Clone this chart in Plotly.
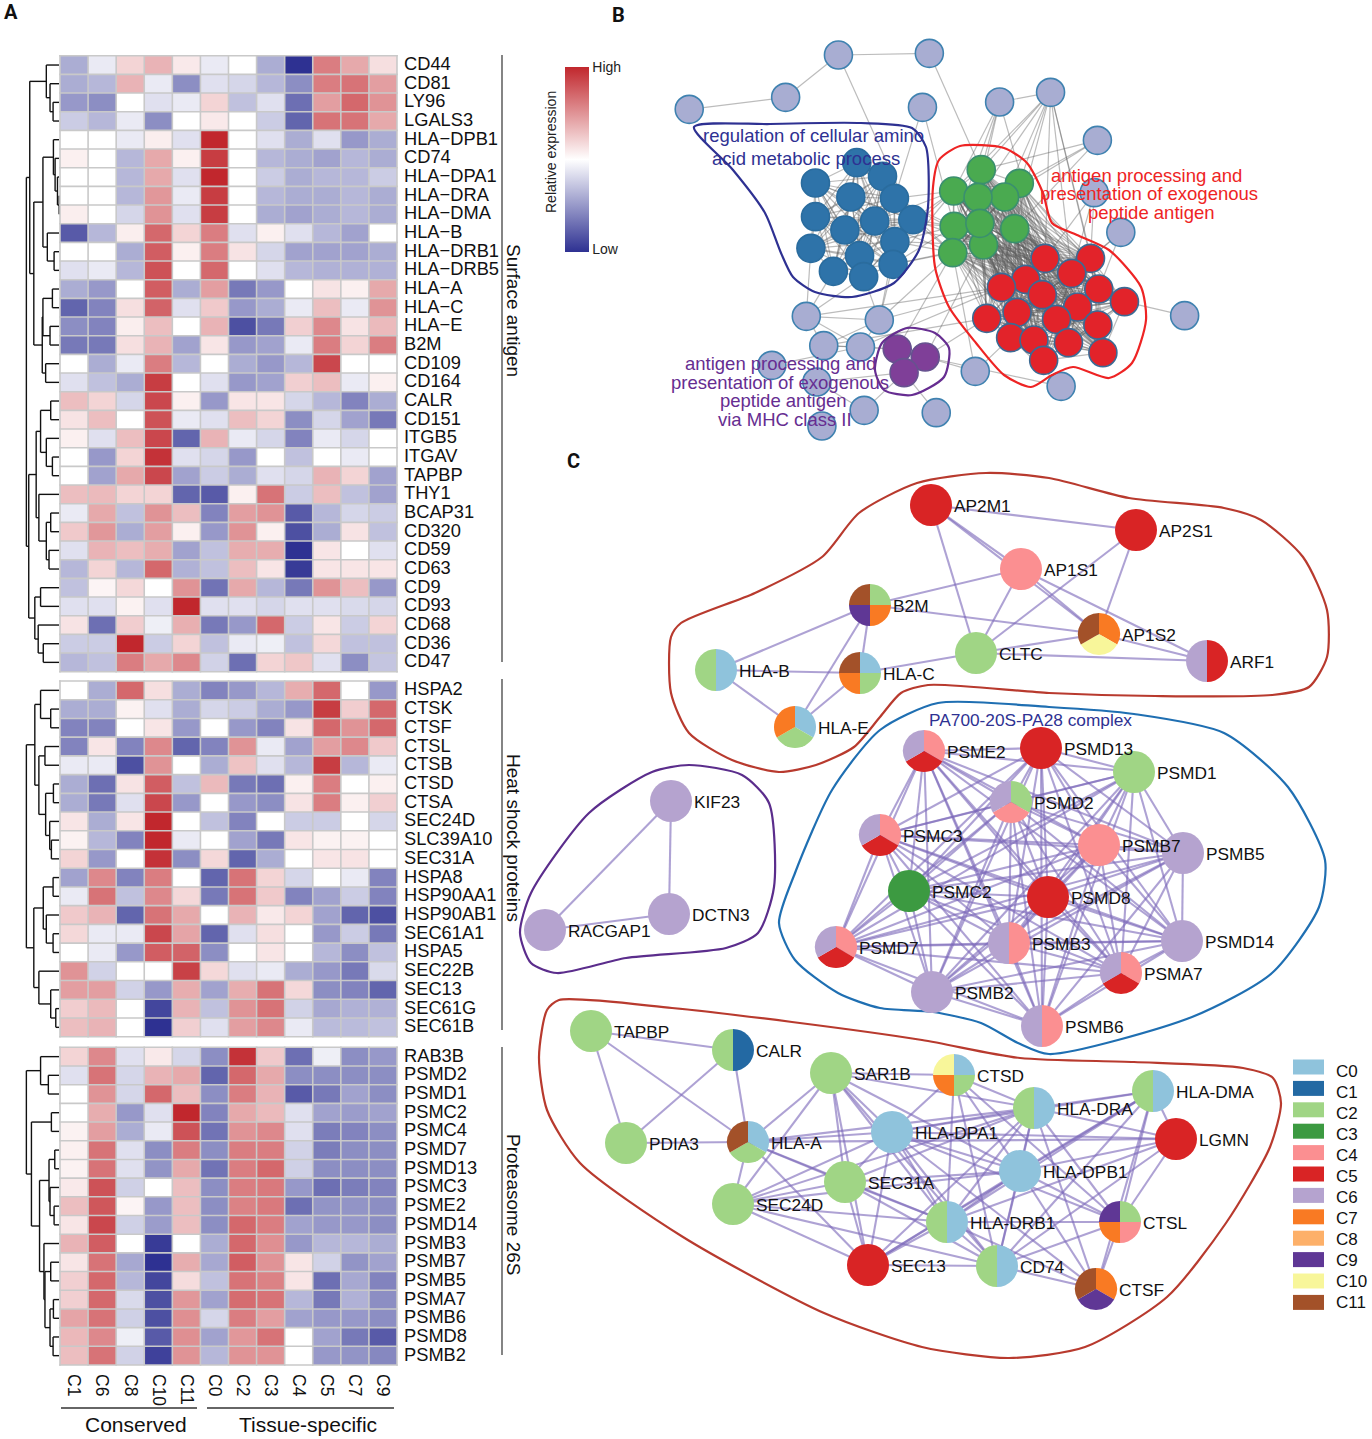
import itertools
import plotly.graph_objects as go

W, H = 1372, 1439
FONT = "Liberation Sans"

COLUMNS = ["C1", "C6", "C8", "C10", "C11", "C0", "C2", "C3", "C4", "C5", "C7", "C9"]

SURFACE_GENES = ["CD44", "CD81", "LY96", "LGALS3", "HLA−DPB1", "CD74", "HLA−DPA1", "HLA−DRA", "HLA−DMA", "HLA−B",
                 "HLA−DRB1", "HLA−DRB5", "HLA−A", "HLA−C", "HLA−E", "B2M", "CD109", "CD164", "CALR", "CD151",
                 "ITGB5", "ITGAV", "TAPBP", "THY1", "BCAP31", "CD320", "CD59", "CD63", "CD9", "CD93", "CD68",
                 "CD36", "CD47"]
SURFACE_VALUES = [
    [-4, -1, 2, 3.5, 1, -1, 0, -4, -10, 6, 4, 1.5],
    [-4, -3.5, 3.5, -1, -5.5, -1.5, -2, -3.5, -5.5, 6, 6.5, 4.5],
    [-5, -5.5, 0, -1.5, -1, 2, -3, -1.5, -7, 4.5, 7, 5],
    [-2.5, -3.5, -1, -5.5, 0, 1, 0, -2.5, -7.5, 6.5, 6.5, 4],
    [0, 0, -1, .8, -1.5, 10, 0, -1.5, -4, -1.5, -5, -4],
    [.7, 0, -3.5, 4, .7, 9, 0, -3.5, -4, -4.5, -3.5, -4],
    [0, 0, -3.5, 4, -1.5, 10, 0, -2.5, -4, -3.5, -3.5, -2.5],
    [0, 0, -3.5, 4.8, -1, 9, 0, -3.5, -4, -4, -3.5, -4],
    [.8, 0, -2, 5, -1.5, 9, 0, -4, -4.5, -4, -3.5, -4],
    [-8, -3.5, .8, 7, 2, 6, -1.5, .7, -1.5, -3.5, -4.5, 0],
    [0, 0, -4, 7.5, .7, 6, 1.3, -2, -4.5, -4.5, -4.5, -4],
    [-1.5, -1, -3.5, 8, 0, 7, 0, -1.5, -3.5, -3.8, -3.8, -3.8],
    [-4, -5, 0, 7.5, -4, 4.5, -6.5, -5, 0, 1.3, .7, 4],
    [-7.5, -6, 1.5, 7.2, -1.5, 2.5, -5, -4, -1, 3, -1, 5],
    [-5.5, -6, .8, 3, 0, 3.5, -8.5, -6.5, 2.2, 5.5, 1.3, 3.2],
    [-6.5, -6.5, 1.5, 3.5, -4.5, 1.2, -5, -4.5, -1, 6, 2, 6],
    [0, -4, -1, 6, -3.5, 0, -4, -5, -3.5, 8.5, 0, 0],
    [-1.5, -3, -4, 9, 0, -1.5, -5, -4.5, 2.2, 3, -1, .7],
    [3, 2, -2, 8.5, .7, -5, 1.2, 1.2, -2, -3.5, -6, -4],
    [1.3, 3, 0, 8, -1, -1.5, 3, 2, -5.5, -2, -4.5, -6.5],
    [.7, -1.5, 3, 8.5, -7.5, 3.5, -1, -2, -6, -1, -2, 0],
    [0, -5, 2, 9.5, -1.5, -2, -5, 0, -3, 0, -1, 0],
    [0, -4.5, 4, 8.5, -4.5, -2.5, -4, -1.5, -2, 3.5, 2, -4.5],
    [3, 3.2, 2, 2, -7.5, -8, .7, 6.5, -2.5, 3, -3, -4.5],
    [-1, 4, -3, 5, 3, -6, 4.5, 5, -8, -3.5, -2, -2.5],
    [2.5, 4.8, -4, 4.5, .7, -5, 5, .7, -8.5, -4, 1.3, -3],
    [-1.5, 3.5, 3, 3.8, -4.5, -3, 3.8, 3.8, -10, 1.2, 0, -1.5],
    [-3.5, 2, -3.5, 7, -3.8, -3, 3, 1.2, -9.5, 1.2, 1.2, 1.2],
    [-3, .5, 1.8, 0, 5, -6.8, 4, -3.5, -6.5, 5, 3, -5],
    [-1.5, -1.5, .6, -1.5, 10, -1.5, -1.5, -2, -1.5, -1.5, -1.8, -2],
    [1.3, -7, 2.3, -.8, 3.7, -6.5, -5, 7, -2.5, 1.2, -2.5, 2],
    [-2.5, -2.5, 10, -2.5, 2, -3, -1, -.8, -3, 1.8, -3, -3],
    [-3.5, -3, 6, 4, 5.5, -2.2, -7, 2, 2.6, -1.5, -5.5, -2.8],
]

HEAT_GENES = ["HSPA2", "CTSK", "CTSF", "CTSL", "CTSB", "CTSD", "CTSA", "SEC24D", "SLC39A10", "SEC31A", "HSPA8",
              "HSP90AA1", "HSP90AB1", "SEC61A1", "HSPA5", "SEC22B", "SEC13", "SEC61G", "SEC61B"]
HEAT_VALUES = [
    [0, -4, 7, 1.5, -4, -6, -5, -3.5, 3.8, 7, 0, -5],
    [-4, -4, .6, -1.5, -4, -2, -2.5, -4, -5, 9, 2.3, 7],
    [-6, -6, 0, 1.2, -5, 0, -5, -6, 1.3, 7, 5, 7],
    [-6, 1.2, -6, 5.5, -7.5, -6, 5, -1, -4.5, 4.5, 5.5, 2.5],
    [-1, -1, -8.5, 5, 0, -4, 2.8, -1.5, -3.5, 9, -3.5, -1],
    [-4, -7, 1.3, 7.5, -3, 3.2, -6.5, -7, .7, 6, 0, .7],
    [-4, -6.5, -1.5, 8.5, -5, 0, -5, -5.5, 1.3, 6, .7, 2.2],
    [1.2, -4, 1.2, 10, 0, -3, -6, 0, -2.5, -2.5, 0, -2],
    [.6, -3.5, -6, 10, -1, 0, -4.5, -6.5, 1.2, .6, .6, 0],
    [2, -5, 0, 9.5, -5.5, 1.8, -7.5, -4, 0, 1.2, 1.3, 0],
    [-4.5, 5.5, -6, 6, 0, -7.5, 6.5, 2, -2, 0, -1, -6],
    [-1, 6.5, -3, 5.5, 1.8, -6.5, 6.5, 2.5, -6, -4.5, -2.5, -6],
    [2.5, 3.5, -7.5, 6.5, 4, 0, 3.5, 1, 2, -4.5, -7.5, -8.5],
    [1.8, -1, -1, 8.5, 4.2, -7.5, -1.5, 1.5, 0, -5, -2.5, -6.5],
    [0, -1, -5, 7.5, 7.2, -5.5, 0, 1.2, 0, -3.5, -5.5, -3],
    [5, -2.2, 0, 0, 8.8, 1.8, -1.5, -1, -4, -5, -6.5, -1.8],
    [4.5, 4.5, -2.2, -5, 3.8, -4.5, 3.8, 6.5, 1.8, -5.5, -6, -7.5],
    [2.3, 3.2, 0, -9, 3.5, -3, 5, 6.5, -2.2, -4.2, -3.8, -3.8],
    [3, 3.5, 0, -10, 2.2, -1.5, 4.5, 5.5, -1, -3.3, -3.3, -3],
]

PROT_GENES = ["RAB3B", "PSMD2", "PSMD1", "PSMC2", "PSMC4", "PSMD7", "PSMD13", "PSMC3", "PSME2", "PSMD14", "PSMB3",
              "PSMB7", "PSMB5", "PSMA7", "PSMB6", "PSMD8", "PSMB2"]
PROT_VALUES = [
    [2, 5.5, -1.5, 1, -2, -5.5, 9.5, 2.5, -7, -.8, -5.5, -5],
    [-1.5, 6.5, -2, 3.5, 4, -7.5, 7, 4, -5.5, -5.5, -5.5, -5.5],
    [0, 5, -2, 7, 3, -5.5, 6, 3.5, -8, -6.5, -4.5, -5.5],
    [0, 3.8, -5, -1.5, 10, -6, 4, 3.2, -1.5, -4.5, -4.8, -4.5],
    [.6, 4.5, -4, -1, 8, -6.8, 5, 5.5, -1.5, -6.3, -6, -5.5],
    [.7, 6.5, -1.5, -5.5, 6, -5.5, 6, 6, -2.2, -6.3, -5.5, -5.5],
    [.6, 6.5, -1.5, -5.2, 4, -6.8, 6, 7, -2.3, -5.5, -5.5, -5.5],
    [1, 8, -2.3, 0, 3, -5.5, 6, 6.2, -5, -7, -6.3, -6],
    [3, 7.8, .5, -5, 3, -5.5, 5.8, 6.2, -7, -5.2, -5.2, -5.5],
    [1.2, 8.5, -2.3, -4.8, 3, -5.5, 7, 6, -4.5, -5, -5, -5.5],
    [3.5, 7.5, 0, -9.5, 0, -4, 7, 5.2, -5, -3.5, -3.5, -4],
    [1.2, 6.5, -4.2, -10, 3.8, -4.2, 7.5, 5, 1.2, -2.2, -5.2, -4.5],
    [2.2, 7, -3.5, -9, 1.6, -3, 6.5, 5.8, 1.2, -7, -4.2, -6],
    [2.2, 7, -1.8, -8.5, 4.8, -4.5, 6.8, 6.5, -3.5, -6.5, -3.8, -5.5],
    [4.2, 6.5, -2.3, -8.5, 5.2, -2, 6, 4.5, -4.5, -5, -5, -5.5],
    [3.3, 5.5, -.8, -8, 5.2, -4.5, 4.8, 6.5, 0, -4.5, -6.5, -8],
    [3, 6.5, -2.2, -9.2, 5, -3.5, 5, 5, 0, -5, -5.2, -5.8],
]

# Dendrograms: (join position, upper branch, lower branch); integers are rows
SURFACE_TREE = (78,
    (88, (137, 0, (148, 1, (157, 2, 3))),
     (100, (127, (158, 4, (163, 5, (170, 6, (175, 7, 8)))), (140, 9, (160, 10, 11))),
      (125, (127, (155, 12, 13), (148, 14, 15)), (135, 16, 17)))),
    (85, (107, (120, (150, 18, 19), (137, 20, (155, 21, 22))),
          (115, 23, (137, (150, 24, 25), (145, 26, 27)))),
     (103, (120, 28, 29), (113, 30, (128, 31, 32)))))
HEAT_TREE = (78,
    (103, (120, 0, (150, 1, 2)),
     (115, (133, 3, 4), (135, (158, 5, 6), (147, 7, (152, 8, 9))))),
    (100, (128, (157, 10, 11), (137, 12, (157, 13, 14))),
     (115, 15, (150, 16, (165, 17, 18)))))
PROT_TREE = (78,
    (120, 0, (143, 1, 2)),
    (93, (152, 3, 4),
     (117, (145, (162, 5, 6), (148, 7, (160, 8, 9))),
      (130, 10, (133, (150, 11, 12), (148, (158, 13, 14), (157, 15, 16)))))))

# Panel B network nodes
B_PERIPHERY = [(650, 165), (848, 160), (535, 292), (325, 328), (833, 322), (1001, 306), (1112, 277), (1214, 421),
               (1207, 578), (1265, 697), (1404, 947), (580, 949), (739, 960), (618, 1037), (698, 1041), (505, 1096),
               (603, 1146), (948, 1114), (1135, 1159), (706, 1231), (863, 1238), (614, 1278)]
B_BLUE = [(690, 488), (600, 549), (746, 529), (677, 591), (772, 595), (600, 650), (729, 663), (812, 659), (664, 690),
          (773, 725), (590, 745), (696, 767), (769, 793), (639, 814), (705, 830)]
B_GREEN = [(961, 509), (1044, 550), (901, 573), (1012, 591), (954, 592), (902, 679), (1034, 686), (966, 735),
           (958, 670), (899, 758)]
B_RED = [(1100, 775), (1199, 775), (1058, 838), (1158, 820), (1005, 862), (1217, 867), (1094, 884), (1273, 905),
         (1171, 921), (973, 955), (1039, 937), (1125, 958), (1215, 975), (1025, 1013), (1076, 1020), (1151, 1028),
         (1226, 1058), (1097, 1081)]
B_PURPLE = [(778, 1047), (839, 1071), (793, 1118)]
B_PERIPH_EDGES = [(3, 2), (2, 0), (0, 1), (5, 6), (11, 12), (11, 13), (12, 14), (13, 14), (14, 15), (16, 21),
                  (16, 19), (11, 14), (12, 13)]

B_HULL_NAVY = [(694, 127), (770, 124), (861, 123), (912, 128), (926, 147), (928, 207), (919, 250), (894, 283), (852, 297),
               (815, 292), (793, 277), (781, 253), (765, 213), (733, 170), (694, 127)]
B_HULL_RED = [(960, 146), (1004, 148), (1027, 163), (1043, 193), (1052, 223), (1077, 235), (1109, 250), (1141, 287),
              (1146, 320), (1132, 363), (1109, 378), (1073, 367), (1052, 375), (1031, 387), (1004, 375), (976, 343),
              (949, 307), (935, 267), (933, 187), (939, 160), (960, 146)]
B_HULL_PURPLE = [(907, 328), (935, 333), (949, 348), (944, 377), (912, 395), (884, 390), (875, 370), (882, 343), (907, 328)]

B_TEXT = [("regulation of cellular amino", 813, 135, "#2e3192"), ("acid metabolic process", 806, 158, "#2e3192"),
          ("antigen processing and", 1146, 175, "#ee2424"), ("presentation of exogenous", 1149, 193, "#ee2424"),
          ("peptide antigen", 1151, 212, "#ee2424"),
          ("antigen processing and", 780, 363, "#662d91"), ("presentation of exogenous", 780, 382, "#662d91"),
          ("peptide antigen", 783, 400, "#662d91"), ("via MHC class II", 785, 419, "#662d91")]

# Panel C network
CLUSTER_NAMES = ["C0", "C1", "C2", "C3", "C4", "C5", "C6", "C7", "C8", "C9", "C10", "C11"]
CLUSTER_COLORS = ["#8fc3dc", "#2369a3", "#a0d585", "#3c9a41", "#fb8f91", "#d92425", "#b5a3cf", "#f97a23", "#fdb069",
                  "#5f3795", "#f8f69a", "#a35129"]
C_NODES = {
    "AP2M1": (931, 505, ["C5"]), "AP2S1": (1136, 530, ["C5"]), "AP1S1": (1021, 569, ["C4"]),
    "B2M": (870, 605, ["C2", "C7", "C9", "C11"]), "AP1S2": (1099, 634, ["C7", "C10", "C11"]),
    "ARF1": (1207, 661, ["C5", "C6"]), "CLTC": (976, 653, ["C2"]), "HLA-B": (716, 670, ["C0", "C2"]),
    "HLA-C": (860, 673, ["C0", "C2", "C7", "C11"]), "HLA-E": (795, 727, ["C0", "C2", "C7"]),
    "KIF23": (671, 801, ["C6"]), "DCTN3": (669, 914, ["C6"]), "RACGAP1": (545, 930, ["C6"]),
    "PSME2": (924, 751, ["C4", "C5", "C6"]), "PSMD13": (1041, 748, ["C5"]), "PSMD1": (1134, 772, ["C2"]),
    "PSMD2": (1011, 802, ["C2", "C4", "C6"]), "PSMC3": (880, 835, ["C4", "C5", "C6"]), "PSMB7": (1099, 845, ["C4"]),
    "PSMB5": (1183, 853, ["C6"]), "PSMC2": (909, 891, ["C3"]), "PSMD8": (1048, 897, ["C5"]),
    "PSMD7": (836, 947, ["C4", "C5", "C6"]), "PSMB3": (1009, 943, ["C4", "C6"]), "PSMD14": (1182, 941, ["C6"]),
    "PSMA7": (1121, 973, ["C4", "C5", "C6"]), "PSMB2": (932, 992, ["C6"]), "PSMB6": (1042, 1026, ["C4", "C6"]),
    "TAPBP": (591, 1031, ["C2"]), "CALR": (733, 1050, ["C1", "C2"]), "SAR1B": (831, 1073, ["C2"]),
    "CTSD": (954, 1075, ["C0", "C2", "C7", "C10"]), "HLA-DRA": (1034, 1108, ["C0", "C2"]),
    "HLA-DMA": (1153, 1091, ["C0", "C2"]), "PDIA3": (626, 1143, ["C2"]), "HLA-A": (748, 1142, ["C0", "C2", "C11"]),
    "HLA-DPA1": (892, 1132, ["C0"]), "LGMN": (1176, 1139, ["C5"]), "HLA-DPB1": (1020, 1171, ["C0"]),
    "SEC31A": (845, 1182, ["C2"]), "SEC24D": (733, 1204, ["C2"]), "HLA-DRB1": (947, 1222, ["C0", "C2"]),
    "CTSL": (1120, 1222, ["C2", "C4", "C7", "C9"]), "SEC13": (868, 1265, ["C5"]), "CD74": (997, 1266, ["C0", "C2"]),
    "CTSF": (1096, 1289, ["C7", "C9", "C11"]),
}
C_EDGES_FROM = {
    "AP2M1": ["AP2S1", "AP1S1", "CLTC", "AP1S2"], "AP2S1": ["CLTC", "AP1S2"],
    "AP1S1": ["B2M", "CLTC", "AP1S2", "ARF1"], "B2M": ["AP1S2", "HLA-B", "HLA-C", "HLA-E"],
    "HLA-B": ["HLA-C", "HLA-E"], "HLA-C": ["HLA-E", "CLTC"], "CLTC": ["AP1S2", "ARF1"], "AP1S2": ["ARF1"],
    "KIF23": ["DCTN3", "RACGAP1"], "DCTN3": ["RACGAP1"],
    "TAPBP": ["CALR", "PDIA3", "HLA-A"], "CALR": ["PDIA3", "HLA-A"], "PDIA3": ["HLA-A"],
    "HLA-A": ["SAR1B", "HLA-DPA1", "HLA-DRA", "SEC24D", "SEC31A", "SEC13", "LGMN", "HLA-DRB1"],
    "SAR1B": ["SEC31A", "CTSD", "HLA-DRA", "HLA-DPA1", "HLA-DPB1", "HLA-DRB1", "SEC13", "CD74", "SEC24D"],
    "CTSD": ["HLA-DPA1", "HLA-DRA", "HLA-DPB1", "HLA-DRB1", "CD74", "CTSL"],
    "HLA-DRA": ["HLA-DMA", "HLA-DPA1", "SEC31A", "SEC24D", "HLA-DPB1", "HLA-DRB1", "LGMN", "CTSL", "CD74", "CTSF", "SEC13"],
    "HLA-DMA": ["HLA-DPA1", "LGMN", "HLA-DPB1", "HLA-DRB1", "CTSL", "CTSF", "CD74", "SEC13"],
    "HLA-DPA1": ["LGMN", "HLA-DPB1", "SEC31A", "SEC24D", "HLA-DRB1", "CTSL", "SEC13", "CD74", "CTSF"],
    "LGMN": ["HLA-DPB1", "HLA-DRB1", "CTSL", "CD74"],
    "HLA-DPB1": ["SEC31A", "SEC24D", "HLA-DRB1", "CTSL", "SEC13", "CD74", "CTSF"],
    "SEC31A": ["SEC13", "HLA-DRB1", "SEC24D", "CD74"], "SEC24D": ["HLA-DRB1", "SEC13", "CD74"],
    "HLA-DRB1": ["CTSL", "SEC13", "CD74", "CTSF"], "CTSL": ["CD74", "CTSF"], "SEC13": ["CD74"], "CD74": ["CTSF"],
}
PROTEASOME_CLIQUE = ["PSME2", "PSMD13", "PSMD1", "PSMD2", "PSMC3", "PSMB7", "PSMB5", "PSMC2", "PSMD8", "PSMD7",
                     "PSMB3", "PSMD14", "PSMA7", "PSMB2", "PSMB6"]
C_HULL_TOP = [(681, 623), (755, 593), (822, 557), (859, 513), (917, 483), (986, 473), (1049, 478), (1129, 498), (1224, 508),
              (1261, 520), (1303, 557), (1327, 610), (1327, 657), (1309, 687), (1272, 695), (1155, 696), (1049, 693),
              (928, 685), (901, 693), (880, 717), (854, 747), (816, 765), (779, 772), (732, 760), (689, 733), (671, 693),
              (671, 637), (681, 623)]
C_HULL_BLUE = [(938, 703), (1049, 707), (1134, 714), (1224, 733), (1288, 787), (1325, 860), (1319, 907), (1272, 973),
               (1192, 1017), (1049, 1054), (1018, 1043), (981, 1023), (933, 1012), (880, 1008), (838, 993), (795, 960),
               (779, 923), (795, 873), (832, 790), (880, 730), (938, 703)]
C_HULL_PURPLE = [(689, 765), (742, 775), (769, 803), (774, 887), (758, 933), (726, 948), (626, 958), (557, 973), (531, 963),
                 (520, 933), (531, 893), (589, 813), (652, 772), (689, 765)]
C_HULL_BOTTOM = [(559, 1000), (672, 1008), (792, 1022), (922, 1040), (1020, 1058), (1134, 1062), (1243, 1068), (1273, 1078),
                 (1281, 1103), (1270, 1147), (1226, 1223), (1167, 1297), (1085, 1347), (1009, 1358), (922, 1347), (824, 1313),
                 (683, 1237), (580, 1163), (547, 1110), (539, 1057), (547, 1010), (559, 1000)]

COLORSCALE = [[0, "#2e3192"], [0.5, "#ffffff"], [1, "#c1272d"]]
HEAT_LEFT, HEAT_RIGHT = 60, 397
PANELS = [(SURFACE_GENES, SURFACE_VALUES, SURFACE_TREE, 55.7, 671.7),
          (HEAT_GENES, HEAT_VALUES, HEAT_TREE, 681, 1036.7),
          (PROT_GENES, PROT_VALUES, PROT_TREE, 1047.3, 1365)]
GRID_COLOR = "#c9c9c9"

fig = go.Figure()


def segs(pairs):
    xs, ys = [], []
    for (a, b) in pairs:
        xs += [a[0], b[0], None]
        ys += [a[1], b[1], None]
    return xs, ys


def line_trace(pairs, color, width):
    xs, ys = segs(pairs)
    fig.add_trace(go.Scatter(x=xs, y=ys, mode="lines", line=dict(color=color, width=width),
                             hoverinfo="skip", showlegend=False, xaxis="x", yaxis="y"))


def hull(points, color, width=2.2):
    fig.add_trace(go.Scatter(x=[p[0] for p in points], y=[p[1] for p in points], mode="lines",
                             line=dict(color=color, width=width, shape="spline", smoothing=0.7),
                             hoverinfo="skip", showlegend=False, xaxis="x", yaxis="y"))


def b_xy(p):
    return (540 + p[0] / 2.178, p[1] / 3)


fig.add_trace(go.Scatter(x=[0, W], y=[0, H], mode="markers", marker=dict(opacity=0), hoverinfo="skip",
                         showlegend=False, xaxis="x", yaxis="y"))

layout_axes = {}
shapes = []
annotations = []


def note(text, x, y, size=17, color="#111111", anchor="left", angle=0, bold=False, family=FONT):
    annotations.append(dict(text=f"<b>{text}</b>" if bold else text, x=x, y=y, xref="x", yref="y", showarrow=False,
                            font=dict(family=family, size=size, color=color), xanchor=anchor, yanchor="middle",
                            textangle=angle))


# ---- heatmaps
for k, (genes, vals, tree, top, bottom) in enumerate(PANELS):
    n = k + 2
    ax, ay = f"x{n}", f"y{n}"
    trace = dict(z=vals, x=COLUMNS, y=genes, colorscale=COLORSCALE, zmin=-10, zmax=10,
                 hoverinfo="skip", xaxis=ax, yaxis=ay)
    if k == 0:
        trace.update(showscale=True, colorbar=dict(
            x=565 / W, xanchor="left", xpad=0, ypad=0, thickness=24, thicknessmode="pixels",
            len=(252 - 67) / H, lenmode="fraction", y=1 - 67 / H, yanchor="top", outlinewidth=0,
            tickmode="array", tickvals=[-9.7, 9.95], ticktext=["Low", "High"], ticklen=0,
            tickfont=dict(family=FONT, size=14, color="#222222")))
    else:
        trace.update(showscale=False)
    fig.add_trace(go.Heatmap(**trace))
    layout_axes[f"xaxis{n}"] = dict(domain=[HEAT_LEFT / W, HEAT_RIGHT / W], anchor=ay, type="category",
                                    showgrid=False, zeroline=False, showline=False, ticks="", side="bottom",
                                    showticklabels=(k == 2), tickangle=90, ticklabelstandoff=8,
                                    tickfont=dict(family=FONT, size=17.5, color="#111111"))
    layout_axes[f"yaxis{n}"] = dict(domain=[1 - bottom / H, 1 - top / H], anchor=ax, type="category", autorange="reversed",
                                    showgrid=False, zeroline=False, showline=False, ticks="", showticklabels=False)

    row_h = (bottom - top) / len(genes)
    col_w = (HEAT_RIGHT - HEAT_LEFT) / len(COLUMNS)
    # cell borders
    for i in range(len(genes) + 1):
        yy = top + i * row_h
        shapes.append(dict(type="line", xref="x", yref="y", x0=HEAT_LEFT - 0.8, x1=HEAT_RIGHT + 0.8, y0=yy, y1=yy,
                           line=dict(color=GRID_COLOR, width=1.6)))
    for j in range(len(COLUMNS) + 1):
        xx = HEAT_LEFT + j * col_w
        shapes.append(dict(type="line", xref="x", yref="y", x0=xx, x1=xx, y0=top - 0.8, y1=bottom + 0.8,
                           line=dict(color=GRID_COLOR, width=1.6)))
    for i, g in enumerate(genes):
        note(g, 402, top + (i + 0.5) * row_h - 1.5, 18.3)

    tree_pairs = []

    def walk(node):
        if isinstance(node, int):
            return HEAT_LEFT - 1, top + (node + 0.5) * row_h
        jx = node[0] / 2.958
        ax1, ay1 = walk(node[1])
        bx1, by1 = walk(node[2])
        tree_pairs.append(((jx, ay1), (ax1, ay1)))
        tree_pairs.append(((jx, by1), (bx1, by1)))
        tree_pairs.append(((jx, ay1), (jx, by1)))
        return jx, (ay1 + by1) / 2

    walk(tree)
    line_trace(tree_pairs, "#111111", 1.4)

# section bars and captions
line_trace([((502, 55), (502, 662)), ((502, 679), (502, 1030)), ((502, 1047), (502, 1355))], "#666666", 1.6)
line_trace([((61, 1408), (197, 1408)), ((207, 1408), (394, 1408))], "#333333", 1.3)
note("Surface antigen", 514, 310, 19, anchor="center", angle=90)
note("Heat shock proteins", 514, 838, 19, anchor="center", angle=90)
note("Proteasome 26S", 514, 1205, 19, anchor="center", angle=90)
note("Conserved", 136, 1424, 21, anchor="center")
note("Tissue-specific", 308, 1424, 21, anchor="center")
note("Relative expression", 551, 152, 14, "#222222", anchor="center", angle=-90)
note("A", 11, 12, 20, "#111111", anchor="center", bold=True, family="Roboto")
note("B", 618, 15, 20, "#111111", anchor="center", bold=True, family="Roboto")
note("C", 573, 461, 20, "#111111", anchor="center", bold=True, family="Roboto")

# ---- Panel B
pp, bl, gr, rd, pu = [[b_xy(p) for p in g] for g in (B_PERIPHERY, B_BLUE, B_GREEN, B_RED, B_PURPLE)]
edges_b = [(pp[a], pp[b]) for a, b in B_PERIPH_EDGES]
edges_b += list(itertools.combinations(bl, 2)) + list(itertools.combinations(gr, 2)) + list(itertools.combinations(rd, 2))
edges_b += [(g, r) for g in gr for r in rd]
edges_b += [(b, g) for b in (bl[7], bl[9], bl[12], bl[4], bl[6]) for g in (gr[2], gr[5], gr[9], gr[7])]
edges_b += [(pp[6], n) for n in (gr[0], gr[1], gr[3], gr[4], gr[6], rd[0], rd[1], rd[3], gr[2], rd[5])]
edges_b += [(pp[5], n) for n in (gr[0], gr[2], gr[4], rd[0], gr[5])]
edges_b += [(pp[7], n) for n in (gr[1], gr[3], gr[6], gr[0])]
edges_b += [(pp[8], n) for n in (rd[0], rd[1], rd[3])]
edges_b += [(pp[9], n) for n in (rd[1], rd[5], rd[3])]
edges_b += [(pp[10], rd[7]), (pp[18], rd[13]), (pp[18], pu[1]), (pp[1], gr[0]), (pp[0], bl[7]), (pp[4], bl[4]), (pp[4], gr[5])]
edges_b += [(pp[11], n) for n in (bl[13], bl[10], bl[14])] + [(pp[12], n) for n in (bl[14], bl[12], gr[9], rd[4])]
edges_b += [(pp[14], n) for n in (pu[0], rd[4])] + [(pp[13], pu[0]), (pp[17], pu[1]), (pp[17], rd[13]), (pp[17], gr[9])]
edges_b += [(pp[16], pu[2]), (pp[19], pu[2]), (pp[20], pu[2]), (pu[0], pu[1]), (pu[0], pu[2]), (pu[1], pu[2])]
edges_b += [(pu[0], gr[9]), (pu[1], gr[7]), (pu[1], rd[9]), (pp[13], rd[9]), (pp[11], rd[4]), (pp[12], bl[9])]
line_trace(edges_b, "rgba(95,95,95,0.42)", 1.2)
for pts, fill, edge in [(pp, "#a8add2", "#3f82b0"), (bl, "#2e73a9", "#2a6c9e"), (gr, "#4aaa50", "#3a8f6f"),
                        (rd, "#e2232a", "#3b6a94"), (pu, "#7f3f98", "#66528f")]:
    fig.add_trace(go.Scatter(x=[p[0] for p in pts], y=[p[1] for p in pts], mode="markers",
                             marker=dict(size=28, color=fill, line=dict(color=edge, width=1.6)),
                             hoverinfo="skip", showlegend=False, xaxis="x", yaxis="y"))
hull(B_HULL_NAVY, "#2e3192")
hull(B_HULL_RED, "#ee2424")
hull(B_HULL_PURPLE, "#662d91")
for text, x, y, color in B_TEXT:
    note(text, x, y, 18.5, color, anchor="center")

# ---- Panel C
pos = {k: (v[0], v[1]) for k, v in C_NODES.items()}
edges_c = [(pos[a], pos[b]) for a, lst in C_EDGES_FROM.items() for b in lst]
edges_c += [(pos[a], pos[b]) for a, b in itertools.combinations(PROTEASOME_CLIQUE, 2)]
line_trace(edges_c, "rgba(125,105,185,0.62)", 2.1)
hull(C_HULL_TOP, "#b83a2e")
hull(C_HULL_BLUE, "#1f6fb2")
hull(C_HULL_PURPLE, "#5b2d8c")
hull(C_HULL_BOTTOM, "#b83a2e")
R = 21
color_of = dict(zip(CLUSTER_NAMES, CLUSTER_COLORS))
for name, (cx, cy, members) in C_NODES.items():
    fig.add_trace(go.Pie(values=[1] * len(members), labels=members, sort=False, direction="clockwise", rotation=0,
                         marker=dict(colors=[color_of[m] for m in members], line=dict(width=0)),
                         textinfo="none", hoverinfo="skip", showlegend=False, automargin=False,
                         domain=dict(x=[(cx - R) / W, (cx + R) / W], y=[1 - (cy + R) / H, 1 - (cy - R) / H])))
    note(name, cx + 20.5, cy + 0.5, 17.3)
note("PA700-20S-PA28 complex", 1030, 720, 17.3, "#2e3192", anchor="center")

# legend
for i, (name, color) in enumerate(zip(CLUSTER_NAMES, CLUSTER_COLORS)):
    y0 = 1059.5 + i * 21.4
    shapes.append(dict(type="rect", xref="x", yref="y", x0=1293, x1=1324, y0=y0, y1=y0 + 15,
                       fillcolor=color, line=dict(width=0)))
    note(name, 1334, 1071.5 + i * 21, 17)

fig.update_layout(
    width=W, height=H, margin=dict(l=0, r=0, t=0, b=0, pad=0, autoexpand=False),
    paper_bgcolor="white", plot_bgcolor="white", showlegend=False,
    xaxis=dict(domain=[0, 1], range=[0, W], visible=False, fixedrange=True),
    yaxis=dict(domain=[0, 1], range=[H, 0], visible=False, fixedrange=True),
    shapes=shapes, annotations=annotations, **layout_axes,
)
fig.write_html("out.html", config={"displayModeBar": False},
               post_script="document.body.style.margin='0';document.body.style.overflow='hidden';")
